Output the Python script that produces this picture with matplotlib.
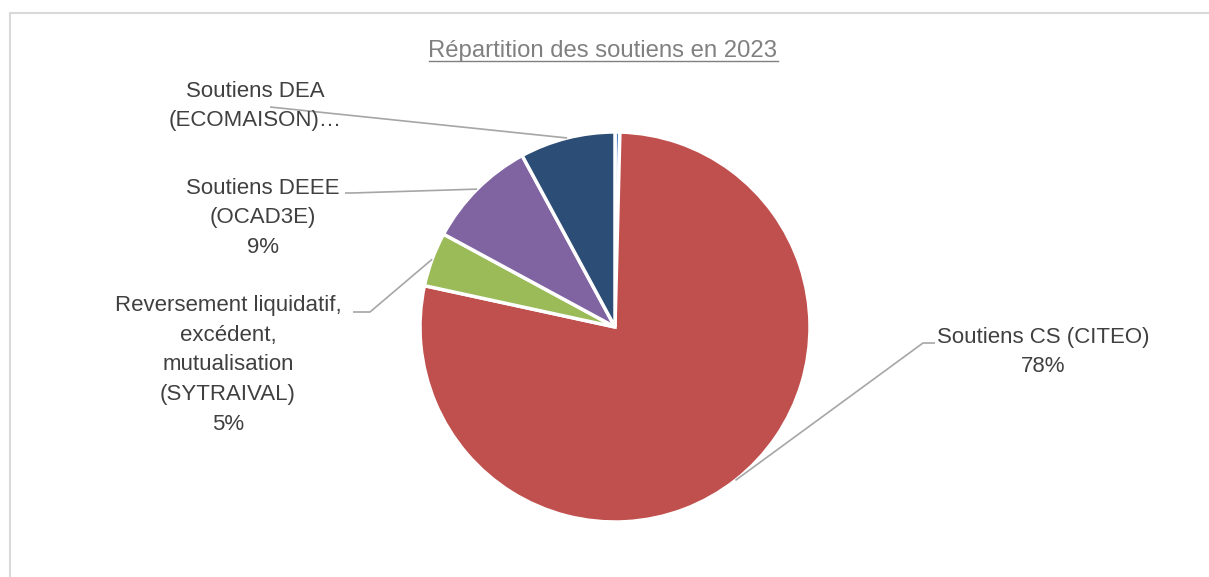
import numpy as np
import matplotlib
matplotlib.use('Agg')
import matplotlib.pyplot as plt

# données (parts en %)
categories = ['Autres',
              'Soutiens CS (CITEO)',
              'Reversement liquidatif,\nexcédent,\nmutualisation\n(SYTRAIVAL)',
              'Soutiens DEEE\n(OCAD3E)',
              'Soutiens DEA\n(ECOMAISON)…']
parts = [0.4, 78.0, 4.5, 9.2, 7.9]
etiquettes = ['', 'Soutiens CS (CITEO)\n78%',
              'Reversement liquidatif,\nexcédent,\nmutualisation\n(SYTRAIVAL)\n5%',
              'Soutiens DEEE\n(OCAD3E)\n9%',
              'Soutiens DEA\n(ECOMAISON)…']
couleurs = ['#4F81BD', '#C0504D', '#9BBB59', '#8064A2', '#2C4D75']

W, H = 1209, 577
plt.rcParams['font.family'] = ['Liberation Sans', 'DejaVu Sans']

fig = plt.figure(figsize=(W / 100, H / 100), dpi=100)
ax = fig.add_axes([0, 0, 1, 1])

cx, cy, r = 615, H - 327, 195
wedges, _ = ax.pie(parts, colors=couleurs, startangle=90, counterclock=False,
                   center=(cx, cy), radius=r,
                   wedgeprops=dict(edgecolor='white', linewidth=2.5))
ax.set_xlim(0, W)
ax.set_ylim(0, H)
ax.axis('off')

# position des étiquettes (pixels, origine en haut) et point de départ du trait
pos_txt = [None, (1043, 352), (228, 365), (263, 218), (255, 106)]
depart = [None, [(935, 343), (923, 343)], [(353, 312), (370, 312)],
          [(345, 193), (352, 193)], [(270, 107)]]

gris_txt = '#404040'
for i, w in enumerate(wedges):
    if not etiquettes[i]:
        continue
    ang = np.deg2rad((w.theta1 + w.theta2) / 2)
    ax_x = cx + r * np.cos(ang)
    ax_y = cy + r * np.sin(ang)
    pts = [(x, H - y) for x, y in depart[i]] + [(ax_x, ax_y)]
    xs, ys = zip(*pts)
    ax.plot(xs, ys, color='#A6A6A6', lw=1.2, solid_capstyle='butt')
    tx, ty = pos_txt[i]
    ax.text(tx, H - ty, etiquettes[i], ha='center', va='center', fontsize=16,
            color=gris_txt, linespacing=1.55)

titre = ax.text(603, H - 51, 'Répartition des soutiens en 2023', ha='center', va='center',
                fontsize=17.2, color='#808080')

# soulignement du titre
fig.canvas.draw()
bb = titre.get_window_extent(fig.canvas.get_renderer())
ax.plot([bb.x0, bb.x1], [bb.y0 + 1, bb.y0 + 1], color='#808080', lw=1)

# cadre du graphique (coupé à droite et en bas)
ax.plot([10, 10], [0, H - 13], color='#D9D9D9', lw=1.5, clip_on=False)
ax.plot([10, W], [H - 13, H - 13], color='#D9D9D9', lw=1.5, clip_on=False)

fig.savefig('out.png', dpi=100)
